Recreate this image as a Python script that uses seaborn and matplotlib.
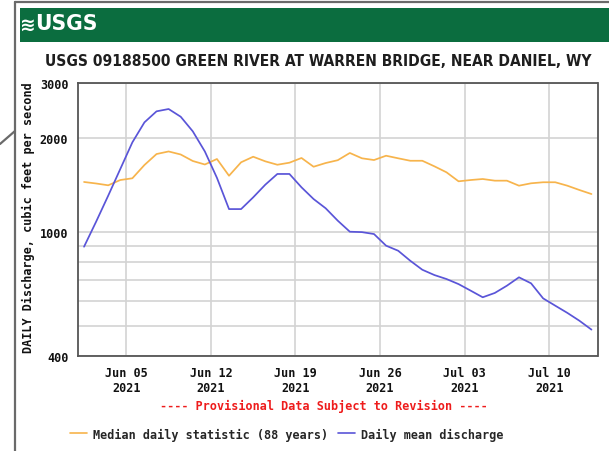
import matplotlib
matplotlib.use("Agg")
import matplotlib.pyplot as plt
from matplotlib.lines import Line2D
from matplotlib.patches import Rectangle
from matplotlib import font_manager
import pandas as pd
import seaborn as sns

# Daily values, Jun 1 - Jul 13 2021 (cubic feet per second)
start_date = "2021-06-01"
end_date = "2021-07-13"
median_cfs = [1445, 1429, 1410, 1466, 1485, 1638, 1776, 1810, 1770, 1687, 1644,
              1712, 1513, 1671, 1741, 1683, 1641, 1666, 1725, 1617, 1662, 1697,
              1790, 1721, 1699, 1754, 1721, 1690, 1690, 1622, 1552, 1452, 1466,
              1477, 1459, 1459, 1406, 1431, 1442, 1442, 1406, 1362, 1322]
mean_cfs = [896, 1078, 1306, 1590, 1936, 2244, 2434, 2476, 2339, 2100, 1810,
            1490, 1183, 1183, 1290, 1416, 1533, 1533, 1389, 1274, 1190, 1086,
            1001, 998, 984, 903, 870, 808, 756, 727, 706, 680, 648, 617, 637,
            672, 715, 684, 612, 580, 550, 519, 486]
series_names = ["Median daily statistic (88 years)", "Daily mean discharge"]
series_colors = ["#f7b44c", "#5a55d8"]

tick_dates = ["2021-06-05", "2021-06-12", "2021-06-19", "2021-06-26",
              "2021-07-03", "2021-07-10"]
tick_labels = ["Jun 05\n2021", "Jun 12\n2021", "Jun 19\n2021", "Jun 26\n2021",
               "Jul 03\n2021", "Jul 10\n2021"]
y_ticks = [400, 1000, 2000, 3000]
y_minor = [500, 600, 700, 800, 900]

title = "USGS 09188500 GREEN RIVER AT WARREN BRIDGE, NEAR DANIEL, WY"
y_label = "DAILY Discharge, cubic feet per second"
note = "---- Provisional Data Subject to Revision ----"

sns.set_style("white")
plt.rcParams["font.family"] = ["DejaVu Sans Mono"]
plt.rcParams["font.weight"] = "bold"


def heading_font():
    """Pick a narrow bold sans face if one is installed."""
    prefs = ["Liberation Sans Narrow", "DejaVu Sans", "Noto Sans", "Open Sans",
             "Roboto", "Liberation Sans"]
    entries = font_manager.fontManager.ttflist
    for want_narrow in (True, False):
        for name in prefs:
            for f in entries:
                if f.name != name:
                    continue
                narrow = ("condensed" in str(f.stretch).lower()
                          or "narrow" in f.name.lower()
                          or "condensed" in f.fname.lower())
                bold = str(f.weight) in ("bold", "700") or f.weight == 700
                if narrow == want_narrow and bold and "italic" not in str(f.style):
                    return font_manager.FontProperties(fname=f.fname)
    return font_manager.FontProperties(family="DejaVu Sans", weight="bold")


days = pd.date_range(start_date, end_date, freq="D") + pd.Timedelta(hours=12)
df = pd.DataFrame({
    "date": list(days) * 2,
    "cfs": median_cfs + mean_cfs,
    "series": [series_names[0]] * len(days) + [series_names[1]] * len(days),
})

W, H = 609, 452
fig = plt.figure(figsize=(W / 100, H / 100), dpi=100, facecolor="white")
renderer = fig.canvas.get_renderer()


def fit_width(txt, width_px):
    w = txt.get_window_extent(renderer).width
    txt.set_fontsize(txt.get_fontsize() * width_px / w)


# page frame, banner and logo
fig.add_artist(Line2D([15 / W, 15 / W], [0, 1 - 3 / H], color="#6a6a6a", lw=1.6))
fig.add_artist(Line2D([15 / W, 1], [1 - 3 / H, 1 - 3 / H], color="#6a6a6a", lw=1.6))
fig.add_artist(Line2D([0, 15 / W], [1 - 145 / H, 1 - 132 / H], color="#6a6a6a", lw=1.6))
fig.add_artist(Rectangle((20 / W, 1 - 43 / H), 1 - 20 / W, 34 / H,
                         transform=fig.transFigure, facecolor="#0b6d3f",
                         edgecolor="none"))
hfont = heading_font()
fig.text(19.5 / W, 1 - 25 / H, "\u224b", color="white", fontsize=13.5,
         family="DejaVu Sans", weight="bold", ha="left", va="center")
logo = fig.text(35 / W, 1 - 24.5 / H, "USGS", color="white",
                fontproperties=hfont, ha="left", va="center")
logo.set_fontsize(20)
fit_width(logo, 62)
head = fig.text(318 / W, 1 - 61.5 / H, title, color="#1e1e1e",
                fontproperties=hfont, ha="center", va="center")
head.set_fontsize(13)
fit_width(head, 545)

ax = fig.add_axes([78 / W, 1 - 357 / H, 519.5 / W, 273 / H])
sns.lineplot(data=df, x="date", y="cfs", hue="series", hue_order=series_names,
             palette=series_colors, linewidth=1.25, ax=ax, legend=False)

ax.set_yscale("log")
ax.set_ylim(400, 3000)
ax.set_xlim(pd.Timestamp(start_date), pd.Timestamp("2021-07-14"))
ax.set_yticks(y_ticks)
ax.set_yticklabels([str(v) for v in y_ticks])
ax.set_yticks(y_minor, minor=True)
ax.set_yticklabels([], minor=True)
ax.set_xticks(pd.to_datetime(tick_dates))
ax.set_xticklabels(tick_labels)
ax.set_xlabel("")
ax.set_ylabel("")
ax.tick_params(axis="both", which="both", length=0, labelsize=8.5,
               labelcolor="#111111")
ax.tick_params(axis="x", pad=7)
ax.tick_params(axis="y", pad=7)
ax.grid(True, which="both", color="#d3d3d3", lw=1.2)
ax.set_axisbelow(True)
for sp in ax.spines.values():
    sp.set_color("#555555")
    sp.set_linewidth(1.3)

fig.text(28 / W, 1 - 218 / H, y_label, rotation=90, fontsize=8.5,
         ha="center", va="center", color="#111111")
fig.text(324 / W, 1 - 406 / H, note, fontsize=8.5, color="#ee1c1c",
         ha="center", va="center")

handles = [Line2D([], [], color=c, lw=1.2) for c in series_colors]
fig.legend(handles, series_names, loc="center left",
           bbox_to_anchor=(70 / W, 1 - 435 / H), ncol=2, frameon=False,
           fontsize=8.5, handlelength=1.45, handletextpad=0.5,
           columnspacing=0.8, borderpad=0, borderaxespad=0)

fig.savefig("out.png", dpi=100, facecolor="white")
